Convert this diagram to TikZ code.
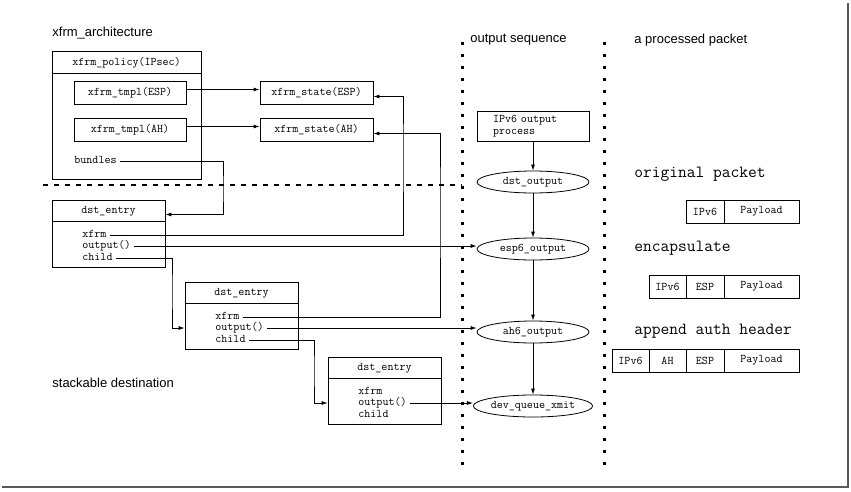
\documentclass[tikz,border=0pt]{standalone}
\usepackage{fontspec}
\setmainfont{Liberation Sans}
\usetikzlibrary{
  shapes.geometric,%
  arrows.meta,%
  positioning
}
\tikzset{>={Latex[length=6pt,width=4pt]}}
\tikzset{
  heading/.style={font=\fontsize{13}{15}\selectfont, anchor=west, inner sep=0pt},
  mono/.style={font=\ttfamily\fontsize{11.7}{12}\selectfont},
  bigmono/.style={font=\ttfamily\fontsize{17}{19}\selectfont, anchor=west, inner sep=0pt},
  box/.style={draw, rectangle, inner sep=0pt, mono},
  field/.style={mono, anchor=west, inner sep=3pt, text height=7pt, text depth=2pt},
  call/.style={draw, ellipse, mono, minimum width=112pt, minimum height=22pt, inner sep=0pt},
  cell/.style={draw, rectangle, mono, minimum height=23pt, inner sep=0pt, outer sep=0pt},
  lane/.style={line width=3pt, dash pattern=on 3pt off 9pt},
  layerline/.style={line width=1.5pt, dash pattern=on 5pt off 6pt},
}

\begin{document}
\begin{tikzpicture}[x=1pt, y=-1pt, line width=0.8pt]
  \useasboundingbox (0,0) rectangle (851,491);
  % frame shadow
  \draw[black!65, line width=2.5pt] (848,3) -- (848,487) -- (2,487);

  % xfrm architecture
  \node[heading] (archtitle) at (52,33) {xfrm\_architecture};
  \node[box, minimum width=149pt, minimum height=128pt] (policy) at (126.5,115) {};
  \draw ([yshift=-23pt]policy.north west) -- ([yshift=-23pt]policy.north east);
  \node[mono] (policyname) at (126.5,63) {xfrm\_policy(IPsec)};
  \node[box, minimum width=112pt, minimum height=23pt] (tmplesp) at (130,92.5) {xfrm\_tmpl(ESP)};
  \node[box, minimum width=112pt, minimum height=23pt] (tmplah) at (130,129.5) {xfrm\_tmpl(AH)};
  \node[field] (bundles) at (71,161) {bundles};
  \node[box, minimum width=113pt, minimum height=23pt] (stateesp) at (316.5,92.5) {xfrm\_state(ESP)};
  \node[box, minimum width=113pt, minimum height=23pt] (stateah) at (316.5,129.5) {xfrm\_state(AH)};
  \draw[->] ([yshift=3pt]tmplesp.east) -- ([yshift=3pt]stateesp.west);
  \draw[->] ([yshift=3pt]tmplah.east) -- ([yshift=3pt]stateah.west);

  % stackable destination
  \node[heading] (stacktitle) at (52,383) {stackable destination};
  \foreach \n/\x/\y in {1/52/200, 2/185/282, 3/328/357} {
    \node[box, minimum width=113pt, minimum height=67pt] (dst\n) at (\x+56.5,\y+33.5) {};
    \draw ([yshift=-22pt]dst\n.north west) -- ([yshift=-22pt]dst\n.north east);
    \node[mono] (dst\n-head) at (\x+56.5,\y+11.5) {dst\_entry};
    \node[field] (dst\n-xfrm) at (\x+27,\y+35) {xfrm};
    \node[field] (dst\n-out) at (\x+27,\y+46) {output()};
    \node[field] (dst\n-child) at (\x+27,\y+58) {child};
  }

  % layer separators
  \coordinate (seqlane) at (462,42);
  \coordinate (pktlane) at (604,42);
  \draw[lane] (seqlane) -- ++(0,423);
  \draw[lane] (pktlane) -- ++(0,423);
  \coordinate (layerstart) at (43,185);
  \draw[layerline] (layerstart) -- (layerstart -| seqlane);

  % output sequence
  \node[heading] (seqtitle) at (470,40) {output sequence};
  \node[box, minimum width=112pt, minimum height=30pt, text width=80pt, align=left] (ipv6) at (533,126) {IPv6 output\\process};
  \node[call] (dstout) at (533,182) {dst\_output};
  \node[call] (esp6) at (533,249) {esp6\_output};
  \node[call] (ah6) at (533,332) {ah6\_output};
  \node[call] (devq) at (533,406) {dev\_queue\_xmit};
  \foreach \a/\b in {ipv6/dstout, dstout/esp6, esp6/ah6, ah6/devq}
    \draw[->] (\a) -- (\b);

  % links
  \coordinate (bundlesbend) at (223,190);
  \draw[->] (bundles.east) -| (bundlesbend) |- ([yshift=-3pt]dst1.east |- dst1-head);
  \coordinate (xfrmbend1) at (403,150);
  \draw[->] (dst1-xfrm.east) -| (xfrmbend1) |- ([yshift=-4pt]stateesp.east);
  \coordinate (xfrmbend2) at (440,200);
  \draw[->] (dst2-xfrm.east) -| (xfrmbend2) |- ([yshift=-4pt]stateah.east);
  \coordinate (childbend1) at (172,290);
  \draw[->] (dst1-child.east) -| (childbend1) |- (dst2.west |- dst2-out);
  \coordinate (childbend2) at (314,370);
  \draw[->] (dst2-child.east) -| (childbend2) |- (dst3.west |- dst3-out);
  \draw[->] (dst1-out.east) -- (dst1-out.east -| esp6.west);
  \draw[->] (dst2-out.east) -- (dst2-out.east -| ah6.west);
  \draw[->] (dst3-out.east) -- (dst3-out.east -| devq.west);

  % a processed packet
  \node[heading] (pkttitle) at (634,40) {a processed packet};
  \node[bigmono] (origtitle) at (634,174) {original packet};
  \node[cell, minimum width=38pt, anchor=north west] (orig-ipv6) at (686,200) {IPv6};
  \node[cell, minimum width=75pt, right=0pt of orig-ipv6] (orig-payload) {Payload};

  \node[bigmono] (encaptitle) at (634,248) {encapsulate};
  \node[cell, minimum width=37pt, anchor=north west] (encap-ipv6) at (649,275) {IPv6};
  \node[cell, minimum width=38pt, right=0pt of encap-ipv6] (encap-esp) {ESP};
  \node[cell, minimum width=75pt, right=0pt of encap-esp] (encap-payload) {Payload};

  \node[bigmono] (authtitle) at (634,331) {append auth header};
  \node[cell, minimum width=37pt, anchor=north west] (auth-ipv6) at (612,349) {IPv6};
  \node[cell, minimum width=37pt, right=0pt of auth-ipv6] (auth-ah) {AH};
  \node[cell, minimum width=38pt, right=0pt of auth-ah] (auth-esp) {ESP};
  \node[cell, minimum width=75pt, right=0pt of auth-esp] (auth-payload) {Payload};
\end{tikzpicture}
\end{document}
